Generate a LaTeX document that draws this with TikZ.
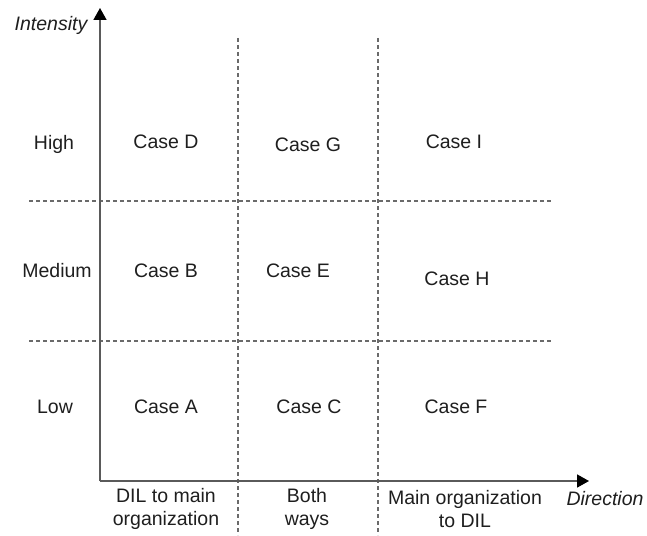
\documentclass[tikz,border=0pt]{standalone}
\usepackage{fontspec}
\setmainfont{Liberation Sans}
\usetikzlibrary{arrows.meta}
\definecolor{axisgray}{HTML}{5A5A5A}
\definecolor{txtgray}{HTML}{1E1E1E}
\definecolor{dashgray}{HTML}{6A6A6A}
\tikzset{
  axisline/.style={draw=axisgray, line width=1.7pt, -{Triangle[length=12pt,width=13pt,color=black,fill=black]}},
  gridline/.style={draw=dashgray, line width=1.1pt, dash pattern=on 4pt off 3pt},
  lbl/.style={text=txtgray, font=\fontsize{19.5}{23}\selectfont, inner sep=0pt, align=center},
  axlbl/.style={lbl, font=\fontsize{19.5}{23}\selectfont\itshape},
}
\begin{document}
\begin{tikzpicture}[x=1pt,y=-1pt]
\useasboundingbox (0,0) rectangle (647,535);
% grid coordinates
\coordinate (o) at (100,481);
\coordinate (ytop) at (100,8);
\coordinate (xend) at (589,481);
\coordinate (v1t) at (238,38);
\coordinate (v1b) at (238,535);
\coordinate (v2t) at (378,38);
\coordinate (v2b) at (378,535);
\coordinate (h1l) at (29,201);
\coordinate (h1r) at (553,201);
\coordinate (h2l) at (29,341);
\coordinate (h2r) at (553,341);
% dashed separators
\draw[gridline] (v1t) -- (v1b);
\draw[gridline] (v2t) -- (v2b);
\draw[gridline] (h1l) -- (h1r);
\draw[gridline] (h2l) -- (h2r);
% axes
\draw[axisline] (o) -- (ytop);
\draw[axisline] (o) -- (xend);
% axis titles
\node[axlbl] (intensity) at (51,25) {Intensity};
\node[axlbl] (direction) at (605,499) {Direction};
% intensity levels
\node[lbl] (high) at (54,144) {High};
\node[lbl] (medium) at (57,271) {Medium};
\node[lbl] (low) at (55,407) {Low};
% cases
\node[lbl] (cD) at (166,142) {Case D};
\node[lbl] (cG) at (308,145) {Case G};
\node[lbl] (cI) at (454,142) {Case I};
\node[lbl] (cB) at (166,271) {Case B};
\node[lbl] (cE) at (298,271) {Case E};
\node[lbl] (cH) at (457,279) {Case H};
\node[lbl] (cA) at (166,407) {Case A};
\node[lbl] (cC) at (309,407) {Case C};
\node[lbl] (cF) at (456,407) {Case F};
% direction categories
\node[lbl] (d1) at (166,509) {DIL to main\\organization};
\node[lbl] (d2) at (307,509) {Both\\ways};
\node[lbl] (d3) at (465,509) {Main organization\\to DIL};
\end{tikzpicture}
\end{document}
